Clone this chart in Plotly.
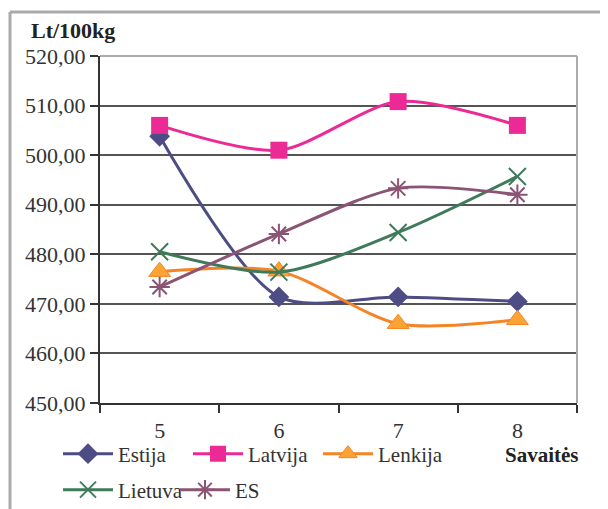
import plotly.graph_objects as go

weeks = ["5", "6", "7", "8"]
estija = [503.8, 471.4, 471.4, 470.5]
latvija = [506.0, 501.0, 510.8, 506.0]
lenkija = [476.5, 476.6, 466.0, 466.8]
lietuva = [480.5, 476.4, 484.4, 495.7]
es = [473.4, 484.1, 493.3, 492.0]

y_ticks = [450, 460, 470, 480, 490, 500, 510, 520]
y_labels = ["450,00", "460,00", "470,00", "480,00", "490,00", "500,00", "510,00", "520,00"]

SERIF = "Liberation Serif"

series = [
    ("Estija", estija, "#4E4C85", dict(symbol="diamond", size=16, color="#4E4C85"), "legend"),
    ("Latvija", latvija, "#EC2A96", dict(symbol="square", size=17, color="#EC2A96"), "legend"),
    ("Lenkija", lenkija, "#F58426", dict(symbol="triangle-up", size=19, color="#FBA434",
                                          line=dict(color="#F58426", width=1)), "legend"),
    ("Lietuva", lietuva, "#3F7A5A", dict(symbol="x-thin-open", size=17, color="#3F7A5A",
                                          line=dict(color="#3F7A5A", width=2)), "legend2"),
    ("ES", es, "#8A5475", dict(symbol="asterisk-open", size=17, color="#8A5475",
                                line=dict(color="#8A5475", width=2)), "legend2"),
]

fig = go.Figure()
for name, vals, col, mk, lg in series:
    fig.add_trace(go.Scatter(
        x=weeks, y=vals, name=name, mode="lines+markers",
        line=dict(color=col, width=3, shape="spline", smoothing=0.8),
        marker=mk, legend=lg,
    ))

OFF = 8  # page body margin
W, H = 608 - OFF, 509 - OFF
L, T = 100 - OFF, 56 - OFF
R = W - (577 - OFF)
B = H - (403 - OFF)
pw, ph = W - L - R, H - T - B

def px_x(p):
    return (p - OFF - L) / pw

def px_y(p):
    return 1 - (p - OFF - T) / ph

fig.update_layout(
    width=W, height=H,
    margin=dict(l=L, r=R, t=T, b=B, autoexpand=False),
    paper_bgcolor="white", plot_bgcolor="white",
    font=dict(family=SERIF, size=21, color="#333333"),
    xaxis=dict(
        type="category", tickson="boundaries", ticks="outside", ticklen=8,
        tickwidth=2, tickcolor="#333333", ticklabelstandoff=7,
        showgrid=False, showline=True, linecolor="#333333", linewidth=2,
        tickfont=dict(family=SERIF, size=22, color="#333333"),
        range=[-0.5, 3.5], automargin=False,
    ),
    yaxis=dict(
        range=[450, 520], tickvals=y_ticks, ticktext=y_labels,
        ticks="outside", ticklen=8, tickwidth=2, tickcolor="#333333",
        showgrid=True, gridcolor="#555555", gridwidth=1.5,
        showline=True, linecolor="#333333", linewidth=2,
        tickfont=dict(family=SERIF, size=22, color="#333333"),
        zeroline=False, automargin=False,
    ),
    legend=dict(
        orientation="h", x=px_x(58), y=px_y(454), xanchor="left", yanchor="middle",
        font=dict(family=SERIF, size=21, color="#333333"),
        entrywidth=65, entrywidthmode="pixels", itemwidth=50,
        bgcolor="rgba(0,0,0,0)",
    ),
    legend2=dict(
        orientation="h", x=px_x(58), y=px_y(490), xanchor="left", yanchor="middle",
        font=dict(family=SERIF, size=21, color="#333333"),
        entrywidth=52, entrywidthmode="pixels", itemwidth=50,
        bgcolor="rgba(0,0,0,0)",
    ),
    showlegend=True,
)

# plot-area frame (right side light gray)
fig.add_shape(type="line", xref="paper", yref="paper", x0=1, x1=1, y0=0, y1=1,
              line=dict(color="#AAAAAA", width=2))
fig.add_shape(type="line", xref="paper", yref="paper", x0=0, x1=1, y0=1, y1=1,
              line=dict(color="#AAAAAA", width=2))
# outer frame
fig.add_shape(type="line", xref="paper", yref="paper", x0=px_x(10), x1=1.2, y0=px_y(12), y1=px_y(12),
              line=dict(color="#AAAAAA", width=3))
fig.add_shape(type="line", xref="paper", yref="paper", x0=px_x(10), x1=px_x(10), y0=px_y(12), y1=px_y(520),
              line=dict(color="#AAAAAA", width=3))

fig.add_annotation(text="<b>Lt/100kg</b>", xref="paper", yref="paper",
                   x=px_x(29), y=px_y(30), xanchor="left", yanchor="middle", showarrow=False,
                   font=dict(family=SERIF, size=22, color="#222222"))
fig.add_annotation(text="<b>Savaitės</b>", xref="paper", yref="paper",
                   x=px_x(581), y=px_y(455), xanchor="right", yanchor="middle", showarrow=False,
                   font=dict(family=SERIF, size=21, color="#222222"))

fig.write_html("out.html")
